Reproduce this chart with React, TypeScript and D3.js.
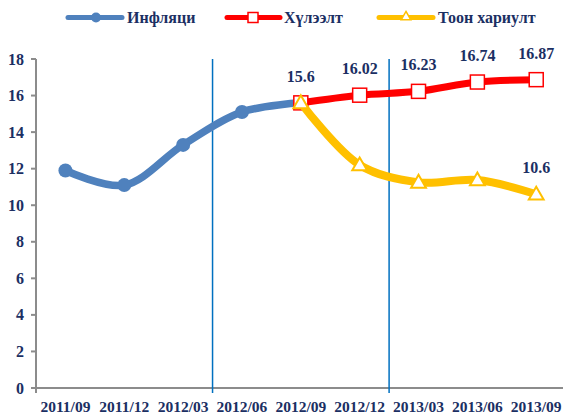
import * as d3 from "d3";

const categories = [
  "2011/09", "2011/12", "2012/03", "2012/06", "2012/09",
  "2012/12", "2013/03", "2013/06", "2013/09",
];
// Инфляци (actual), from 2011/09 to 2012/09
const inflation = [11.9, 11.1, 13.3, 15.1, 15.6];
// Хүлээлт (expectation), from 2012/09 to 2013/09
const expectation = [15.6, 16.02, 16.23, 16.74, 16.87];
// Тоон хариулт (quantitative response), from 2012/09 to 2013/09
const response = [15.6, 12.2, 11.25, 11.38, 10.6];
const yTicks = [0, 2, 4, 6, 8, 10, 12, 14, 16, 18];
const dividers = ["2012/06", "2013/03"];

const W = 563;
const H = 414;
const NAVY = "#1b2f63";
const BLUE = "#4f81bd";
const RED = "#ff0000";
const GOLD = "#ffc000";
const FONT = '"Liberation Serif", "DejaVu Serif", serif';

export default function App() {
  const x = d3.scaleBand<string>().domain(categories).range([36, 36 + 9 * 58.85]);
  const cx = (c: string) => (x(c) ?? 0) + x.bandwidth() / 2;
  const y = d3.scaleLinear().domain([0, 18]).range([388, 59]);

  const blue = inflation.map((v, i) => ({ c: categories[i], v }));
  const red = expectation.map((v, i) => ({ c: categories[i + 4], v }));
  const gold = response.map((v, i) => ({ c: categories[i + 4], v }));

  const line = d3
    .line<{ c: string; v: number }>()
    .x((d) => cx(d.c))
    .y((d) => y(d.v))
    .curve(d3.curveCatmullRom.alpha(0.5));

  const tri = d3.symbol().type(d3.symbolTriangle).size(95);

  return (
    <svg
      width={W}
      height={H}
      style={{ position: "absolute", left: 0, top: 0, background: "#fff", fontFamily: FONT, fontWeight: 700 }}
    >
      {/* legend */}
      <g fontSize={16} fill={NAVY}>
        <line x1={68} x2={122} y1={17.5} y2={17.5} stroke={BLUE} strokeWidth={5} strokeLinecap="round" />
        <circle cx={96} cy={17.5} r={5} fill={BLUE} />
        <text x={127} y={23}>Инфляци</text>
        <line x1={227} x2={280} y1={17.5} y2={17.5} stroke={RED} strokeWidth={5} strokeLinecap="round" />
        <rect x={248} y={12.5} width={10} height={10} fill="#fff" stroke={RED} strokeWidth={1.5} />
        <text x={284} y={23}>Хүлээлт</text>
        <line x1={379} x2={433} y1={17.5} y2={17.5} stroke={GOLD} strokeWidth={5} strokeLinecap="round" />
        <path d={d3.symbol().type(d3.symbolTriangle).size(40)() ?? ""} transform="translate(406,17)" fill="#fff" stroke={GOLD} strokeWidth={1.5} />
        <text x={438} y={23}>Тоон хариулт</text>
      </g>

      {/* y axis */}
      <line x1={36} x2={36} y1={y(18)} y2={y(0)} stroke="#8c8c8c" strokeWidth={2} />
      {yTicks.map((t) => (
        <g key={t}>
          <line x1={31} x2={36} y1={y(t)} y2={y(t)} stroke="#8c8c8c" strokeWidth={2} />
          <text x={24} y={y(t) + 5.5} textAnchor="end" fontSize={16} fill={NAVY}>
            {t}
          </text>
        </g>
      ))}

      {/* x axis */}
      <line x1={31} x2={W} y1={y(0)} y2={y(0)} stroke="#8c8c8c" strokeWidth={2} />
      <line x1={36} x2={36} y1={y(0)} y2={y(0) + 5} stroke="#8c8c8c" strokeWidth={2} />
      {categories.map((c) => (
        <text key={c} x={cx(c)} y={412} textAnchor="middle" fontSize={15.5} fill={NAVY}>
          {c}
        </text>
      ))}

      {/* divider lines */}
      {dividers.map((c) => (
        <line key={c} x1={x(c)} x2={x(c)} y1={y(18)} y2={y(0) + 5} stroke="#0070c0" strokeWidth={1.5} />
      ))}

      {/* series */}
      <path d={line(blue) ?? ""} fill="none" stroke={BLUE} strokeWidth={7.5} strokeLinejoin="round" />
      {blue.map((d) => (
        <circle key={d.c} cx={cx(d.c)} cy={y(d.v)} r={7} fill={BLUE} />
      ))}

      <path d={line(red) ?? ""} fill="none" stroke={RED} strokeWidth={7} strokeLinejoin="round" />
      {red.map((d) => (
        <rect key={d.c} x={cx(d.c) - 7} y={y(d.v) - 7} width={14} height={14} fill="#fff" stroke={RED} strokeWidth={1.5} />
      ))}

      <path d={line(gold) ?? ""} fill="none" stroke={GOLD} strokeWidth={8} strokeLinejoin="round" />
      {gold.map((d) => (
        <path
          key={d.c}
          d={tri() ?? ""}
          transform={`translate(${cx(d.c)},${y(d.v) + 1})`}
          fill="#fff"
          stroke={GOLD}
          strokeWidth={2}
        />
      ))}

      {/* data labels */}
      <g fontSize={16} fill={NAVY} textAnchor="middle">
        {red.map((d) => (
          <text key={d.c} x={cx(d.c)} y={y(d.v) - 21}>
            {d.v}
          </text>
        ))}
        <text x={cx(gold[4].c)} y={y(gold[4].v) - 21}>
          {gold[4].v}
        </text>
      </g>
    </svg>
  );
}
